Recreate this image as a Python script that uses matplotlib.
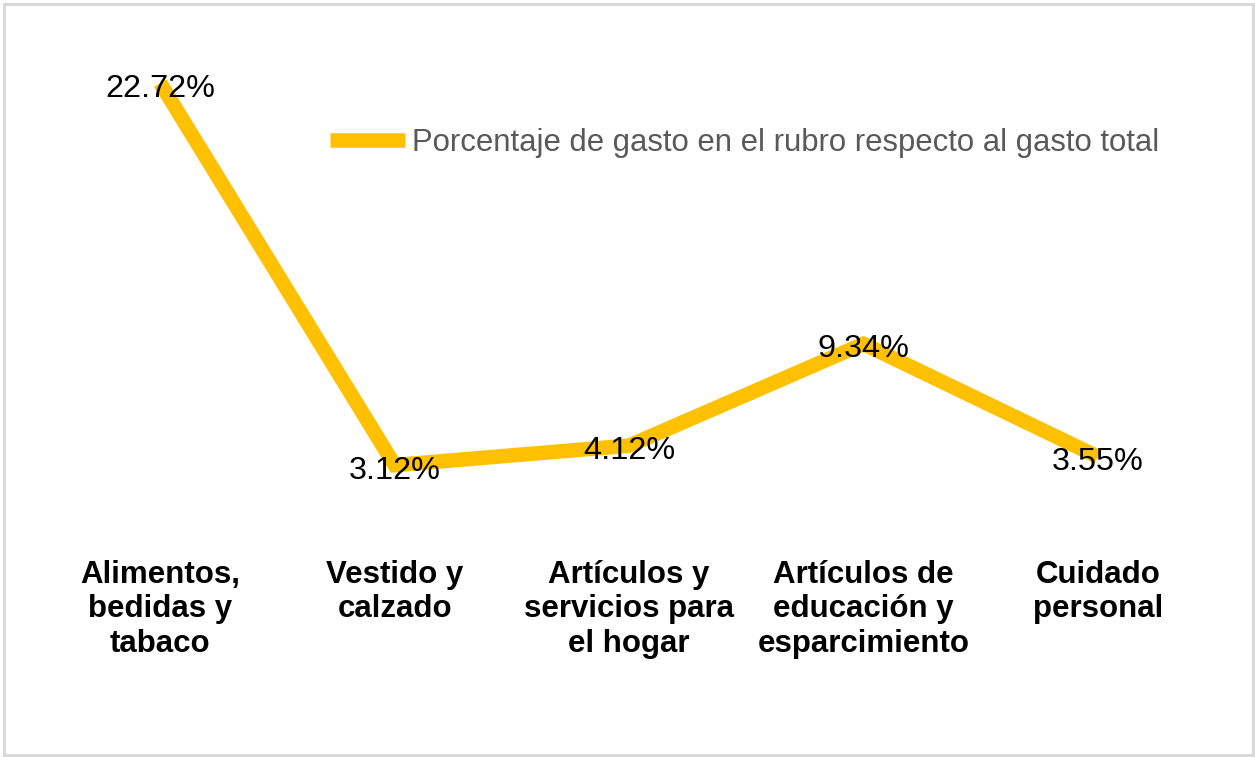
import matplotlib.pyplot as plt
from matplotlib.patches import Rectangle

plt.rcParams["font.family"] = ["Liberation Sans", "DejaVu Sans"]

categories = [
    "Alimentos,\nbedidas y\ntabaco",
    "Vestido y\ncalzado",
    "Artículos y\nservicios para\nel hogar",
    "Artículos de\neducación y\nesparcimiento",
    "Cuidado\npersonal",
]
values = [22.72, 3.12, 4.12, 9.34, 3.55]
series_name = "Porcentaje de gasto en el rubro respecto al gasto total"

W, H = 1255, 757
fig = plt.figure(figsize=(W / 100, H / 100), dpi=100)
fig.patch.set_facecolor("white")

# light gray frame around the chart
fig.add_artist(Rectangle((4 / W, 2 / H), 1249 / W, 751 / H, transform=fig.transFigure,
                         fill=False, edgecolor="#d9d9d9", linewidth=2.2))

left, right = 43 / W, 1215 / W
bottom, top = 1 - 526 / H, 1 - 38.5 / H
ax = fig.add_axes([left, bottom, right - left, top - bottom])

x = list(range(len(categories)))
ax.plot(x, values, color="#ffc000", linewidth=10.5, solid_joinstyle="miter",
        solid_capstyle="butt", label=series_name)

for xi, v in zip(x, values):
    ax.annotate(f"{v:.2f}%", (xi, v), xytext=(0, -4), textcoords="offset points",
                ha="center", va="center", fontsize=23.3, color="black")

ax.set_xlim(-0.5, len(categories) - 0.5)
ax.set_ylim(0, 25)
ax.set_yticks([])
ax.set_xticks(x)
ax.set_xticklabels(categories, fontsize=22.5, fontweight="bold", linespacing=1.19)
ax.tick_params(axis="x", length=0, pad=24.5)
for s in ax.spines.values():
    s.set_visible(False)

leg = ax.legend(loc="center left", bbox_to_anchor=(330 / W, 1 - 142.5 / H),
                bbox_transform=fig.transFigure, frameon=False, fontsize=22.4,
                handlelength=2.42, handletextpad=0.22, borderaxespad=0, borderpad=0)
for t in leg.get_texts():
    t.set_color("#595959")

fig.savefig("out.png", dpi=100, facecolor="white")
